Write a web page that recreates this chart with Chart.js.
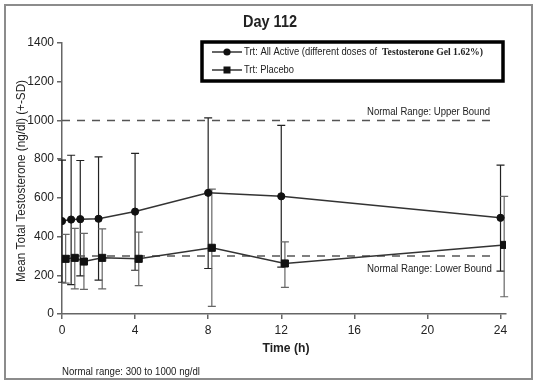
<!DOCTYPE html>
<html>
<head>
<meta charset="utf-8">
<script src="https://cdn.jsdelivr.net/npm/chart.js@4.4.1/dist/chart.umd.min.js"></script>
<style>
  html, body { margin: 0; padding: 0; background: #fff; }
  #wrap { position: relative; width: 537px; height: 384px; }
</style>
</head>
<body>
<div id="wrap"><canvas id="chart" width="537" height="384"></canvas></div>
<script>
// tempos (h) e valores
const hours = [0, 0.5, 1, 2, 4, 8, 12, 24];
const placeboHours = [0.2, 0.7, 1.2, 2.2, 4.2, 8.2, 12.2, 24.2]; // deslocados p/ não sobrepor

const activeMean  = [480, 488, 490, 492, 529, 626, 608, 497];
const activeUpper = [795, 820, 793, 812, 830, 1013, 974, 769];
const activeLower = [164, 152, 197, 175, 226, 235, 242, 221];

const placeboMean  = [285, 290, 271, 290, 285, 342, 261, 357];
const placeboUpper = [411, 442, 416, 440, 423, 645, 373, 608];
const placeboLower = [160, 130, 127, 130, 147, 39, 138, 89];

const upperBound = 1000;
const lowerBound = 300;
const xTicks = [0, 4, 8, 12, 16, 20, 24];
const yTicks = [0, 200, 400, 600, 800, 1000, 1200, 1400];

const narrow = "'Liberation Sans Narrow', 'Arial Narrow', 'Liberation Sans', Arial, sans-serif";
const sans = "'Liberation Sans', Arial, sans-serif";
const serif = "'Liberation Serif', 'Times New Roman', serif";
const ink = '#222';

const toXY = (xs, ys) => xs.map((x, i) => ({ x: x, y: ys[i] }));

// texto ajustado a uma largura
function fitText(ctx, text, x, y, w, align) {
    const m = ctx.measureText(text).width;
    const s = w / m;
    ctx.save();
    ctx.translate(x, y);
    ctx.scale(s, 1);
    ctx.textAlign = 'left';
    const x0 = align === 'right' ? -m : align === 'center' ? -m / 2 : 0;
    ctx.fillText(text, x0, 0);
    ctx.restore();
}

// barras de erro (+-SD)
function drawErrorBars(chart, xs, hi, lo, color) {
    const ctx = chart.ctx;
    const sx = chart.scales.x, sy = chart.scales.y;
    ctx.save();
    ctx.strokeStyle = color;
    ctx.lineWidth = 1.2;
    xs.forEach((v, i) => {
        const px = sx.getPixelForValue(v);
        const top = sy.getPixelForValue(hi[i]);
        const bot = sy.getPixelForValue(lo[i]);
        ctx.beginPath();
        ctx.moveTo(px, top); ctx.lineTo(px, bot);
        ctx.moveTo(px - 4, top); ctx.lineTo(px + 4, top);
        ctx.moveTo(px - 4, bot); ctx.lineTo(px + 4, bot);
        ctx.stroke();
    });
    ctx.restore();
}

const extras = {
    id: 'extras',
    beforeDraw(chart) {
        const ctx = chart.ctx;
        ctx.save();
        ctx.fillStyle = '#fff';
        ctx.fillRect(0, 0, chart.width, chart.height);
        ctx.strokeStyle = '#8c8c8c';
        ctx.lineWidth = 2;
        ctx.strokeRect(5, 5, 527, 374);
        ctx.restore();
    },
    beforeDatasetsDraw(chart) {
        drawErrorBars(chart, hours, activeUpper, activeLower, '#222');
        drawErrorBars(chart, placeboHours, placeboUpper, placeboLower, '#666');
    },
    afterDraw(chart) {
        const ctx = chart.ctx;
        const sy = chart.scales.y;
        ctx.save();
        ctx.fillStyle = ink;
        ctx.textBaseline = 'middle';

        // título
        ctx.font = 'bold 16px ' + sans;
        fitText(ctx, 'Day 112', 270, 23, 54, 'center');

        // eixo y
        ctx.save();
        ctx.translate(22, 181);
        ctx.rotate(-Math.PI / 2);
        ctx.font = '12px ' + sans;
        fitText(ctx, 'Mean Total Testosterone (ng/dl) (+-SD)', 0, 0, 202, 'center');
        ctx.restore();

        // eixo x
        ctx.font = 'bold 12px ' + sans;
        fitText(ctx, 'Time (h)', 286, 349, 47, 'center');

        // rodapé
        ctx.font = '11px ' + sans;
        fitText(ctx, 'Normal range: 300 to 1000 ng/dl', 62, 372, 138, 'left');

        // rótulos das linhas de referência
        ctx.font = '11px ' + sans;
        fitText(ctx, 'Normal Range: Upper Bound', 490, sy.getPixelForValue(upperBound) - 8, 123, 'right');
        fitText(ctx, 'Normal Range: Lower Bound', 492, sy.getPixelForValue(lowerBound) + 13, 125, 'right');

        // legenda
        ctx.strokeStyle = '#000';
        ctx.lineWidth = 3.5;
        ctx.strokeRect(202, 42, 301, 39);

        const rows = [
            { y: 52, style: 'circle' },
            { y: 70, style: 'rect' },
        ];
        rows.forEach(r => {
            ctx.strokeStyle = '#333';
            ctx.lineWidth = 1.5;
            ctx.beginPath();
            ctx.moveTo(212, r.y); ctx.lineTo(242, r.y);
            ctx.stroke();
            ctx.fillStyle = '#111';
            if (r.style === 'circle') {
                ctx.beginPath();
                ctx.arc(227, r.y, 3.6, 0, Math.PI * 2);
                ctx.fill();
            } else {
                ctx.fillRect(223.5, r.y - 3.5, 7, 7);
            }
        });
        ctx.fillStyle = ink;
        ctx.font = '10px ' + sans;
        fitText(ctx, 'Trt: All Active (different doses of', 244, 52, 133, 'left');
        ctx.font = 'bold 10px ' + serif;
        fitText(ctx, 'Testosterone Gel 1.62%)', 382, 52, 101, 'left');
        ctx.font = '10px ' + sans;
        fitText(ctx, 'Trt: Placebo', 244, 70, 50, 'left');

        ctx.restore();
    }
};

document.addEventListener('DOMContentLoaded', function () {
    const ctx = document.getElementById('chart').getContext('2d');

    new Chart(ctx, {
        type: 'line',
        data: {
            datasets: [{
                label: 'Trt: All Active',
                data: toXY(hours, activeMean),
                borderColor: '#333',
                borderWidth: 1.5,
                pointStyle: 'circle',
                pointRadius: 3.6,
                pointBackgroundColor: '#111',
                pointBorderColor: '#111',
                pointBorderWidth: 1,
            },
            {
                label: 'Trt: Placebo',
                data: toXY(placeboHours, placeboMean),
                borderColor: '#333',
                borderWidth: 1.5,
                pointStyle: 'rect',
                pointRadius: 5,
                pointBackgroundColor: '#111',
                pointBorderColor: '#111',
                pointBorderWidth: 1,
            },
            {
                label: 'Upper Bound',
                data: toXY([0, 23.8], [upperBound, upperBound]),
                borderColor: '#555',
                borderWidth: 1.5,
                borderDash: [8, 7],
                pointRadius: 0,
            },
            {
                label: 'Lower Bound',
                data: toXY([0, 23.8], [lowerBound, lowerBound]),
                borderColor: '#555',
                borderWidth: 1.5,
                borderDash: [8, 7],
                pointRadius: 0,
            }],
        },
        options: {
            responsive: false,
            animation: false,
            layout: { padding: { top: 43, right: 31, left: 0, bottom: 0 } },
            scales: {
                x: {
                    type: 'linear',
                    min: 0,
                    max: 24.3,
                    afterBuildTicks: s => { s.ticks = xTicks.map(v => ({ value: v })); },
                    afterFit: s => { s.height = 70; },
                    grid: { display: true, drawOnChartArea: false, tickLength: 5, color: '#666', lineWidth: 1.5 },
                    border: { color: '#666', width: 1.5 },
                    ticks: { color: ink, padding: 4, font: { family: narrow, size: 12 }, maxRotation: 0, callback: v => String(v) },
                },
                y: {
                    min: 0,
                    max: 1400,
                    afterBuildTicks: s => { s.ticks = yTicks.map(v => ({ value: v })); },
                    afterFit: s => { s.width = 62; },
                    grid: { display: true, drawOnChartArea: false, tickLength: 5, color: '#666', lineWidth: 1.5 },
                    border: { color: '#666', width: 1.5 },
                    ticks: { color: ink, padding: 3, font: { family: narrow, size: 12 }, callback: v => String(v) },
                },
            },
            plugins: {
                legend: { display: false },
                title: { display: false },
                tooltip: { enabled: false },
            },
        },
        plugins: [extras],
    });
});
</script>
</body>
</html>
